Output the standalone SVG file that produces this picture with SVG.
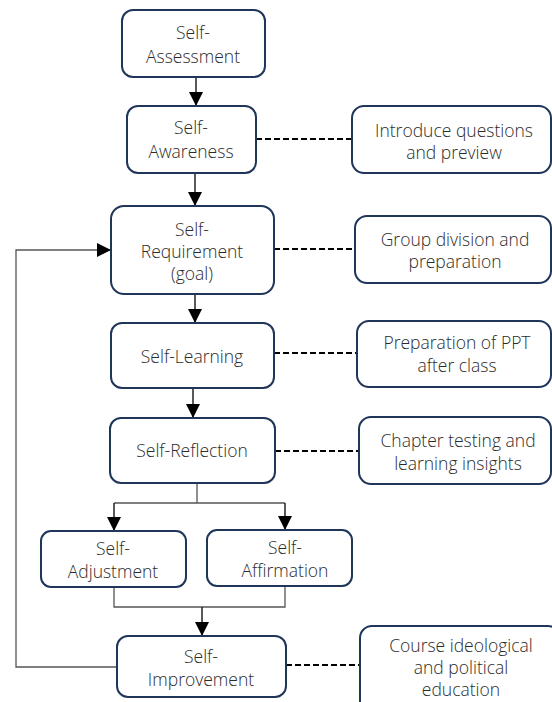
<svg xmlns="http://www.w3.org/2000/svg" width="552" height="702" viewBox="0 0 552 702">
<defs>
<marker id="arr" markerUnits="userSpaceOnUse" markerWidth="14" markerHeight="14" viewBox="0 0 14 14" refX="14" refY="7" orient="auto">
<path d="M0,0 L14,7 L0,14 Z" fill="#000"/>
</marker>
<style>
.box{fill:#fff;stroke:#1f3559;stroke-width:2}
.t{font-family:"Open Sans","Noto Sans",sans-serif;font-weight:300;font-size:17.5px;fill:#2b2b2b;text-anchor:middle}
.ln{fill:none;stroke:#222;stroke-width:1.5}
.gl{fill:none;stroke:#555;stroke-width:1.3}
.ds{fill:none;stroke:#000;stroke-width:2;stroke-dasharray:6,3}
</style>
</defs>
<rect width="552" height="702" fill="#fff"/>
<g id="connectors">
<line class="ln" x1="196" y1="77" x2="196" y2="106" marker-end="url(#arr)"/>
<line class="ln" x1="195" y1="173" x2="195" y2="206" marker-end="url(#arr)"/>
<line class="ln" x1="195" y1="294" x2="195" y2="323" marker-end="url(#arr)"/>
<line class="ln" x1="193" y1="388" x2="193" y2="418" marker-end="url(#arr)"/>
<polyline class="gl" points="197,483 197,503"/>
<polyline class="gl" points="114,503 285,503"/>
<line class="ln" x1="114" y1="503" x2="114" y2="531" marker-end="url(#arr)"/>
<line class="ln" x1="285" y1="503" x2="285" y2="530" marker-end="url(#arr)"/>
<polyline class="gl" points="114,587 114,607 285,607 285,586"/>
<line class="ln" x1="202" y1="607" x2="202" y2="636" marker-end="url(#arr)"/>
<polyline class="gl" points="117,667 16,667 16,250 111,250" marker-end="url(#arr)"/>
<line class="ds" x1="256" y1="139" x2="352" y2="139"/>
<line class="ds" x1="274" y1="249" x2="355" y2="249"/>
<line class="ds" x1="274" y1="353" x2="357" y2="353"/>
<line class="ds" x1="275" y1="451" x2="359" y2="451"/>
<line class="ds" x1="286" y1="665" x2="360" y2="665"/>
</g>
<g id="assess"><rect class="box" x="122" y="10" width="143" height="67" rx="11"/><text class="t" x="193" y="39">Self-</text><text class="t" x="193" y="63">Assessment</text></g>
<g id="aware"><rect class="box" x="127" y="106" width="129" height="67" rx="11"/><text class="t" x="191" y="134">Self-</text><text class="t" x="191" y="158">Awareness</text></g>
<g id="req"><rect class="box" x="111" y="206" width="163" height="88" rx="13"/><text class="t" x="192" y="236">Self-</text><text class="t" x="192" y="258">Requirement</text><text class="t" x="192" y="280">(goal)</text></g>
<g id="learn"><rect class="box" x="111" y="323" width="163" height="65" rx="11"/><text class="t" x="192" y="363">Self-Learning</text></g>
<g id="reflect"><rect class="box" x="110" y="418" width="165" height="65" rx="11"/><text class="t" x="192" y="457">Self-Reflection</text></g>
<g id="adjust"><rect class="box" x="41" y="531" width="145" height="56" rx="10"/><text class="t" x="113" y="555">Self-</text><text class="t" x="113" y="578">Adjustment</text></g>
<g id="affirm"><rect class="box" x="207" y="530" width="145" height="56" rx="10"/><text class="t" x="285" y="554">Self-</text><text class="t" x="285" y="577">Affirmation</text></g>
<g id="improve"><rect class="box" x="117" y="636" width="169" height="61" rx="11"/><text class="t" x="201" y="663">Self-</text><text class="t" x="201" y="686">Improvement</text></g>
<g id="intro"><rect class="box" x="352" y="106" width="199" height="67" rx="12"/><text class="t" x="454" y="137">Introduce questions</text><text class="t" x="454" y="159">and preview</text></g>
<g id="group"><rect class="box" x="355" y="216" width="196" height="67" rx="12"/><text class="t" x="455" y="246">Group division and</text><text class="t" x="455" y="268">preparation</text></g>
<g id="ppt"><rect class="box" x="357" y="321" width="194" height="66" rx="12"/><text class="t" x="457" y="349">Preparation of PPT</text><text class="t" x="457" y="372">after class</text></g>
<g id="chapter"><rect class="box" x="359" y="417" width="192" height="67" rx="12"/><text class="t" x="458" y="447">Chapter testing and</text><text class="t" x="458" y="470">learning insights</text></g>
<g id="course"><rect class="box" x="360" y="626" width="200" height="100" rx="12"/><text class="t" x="461" y="652">Course ideological</text><text class="t" x="461" y="674">and political</text><text class="t" x="461" y="696">education</text></g>
</svg>
